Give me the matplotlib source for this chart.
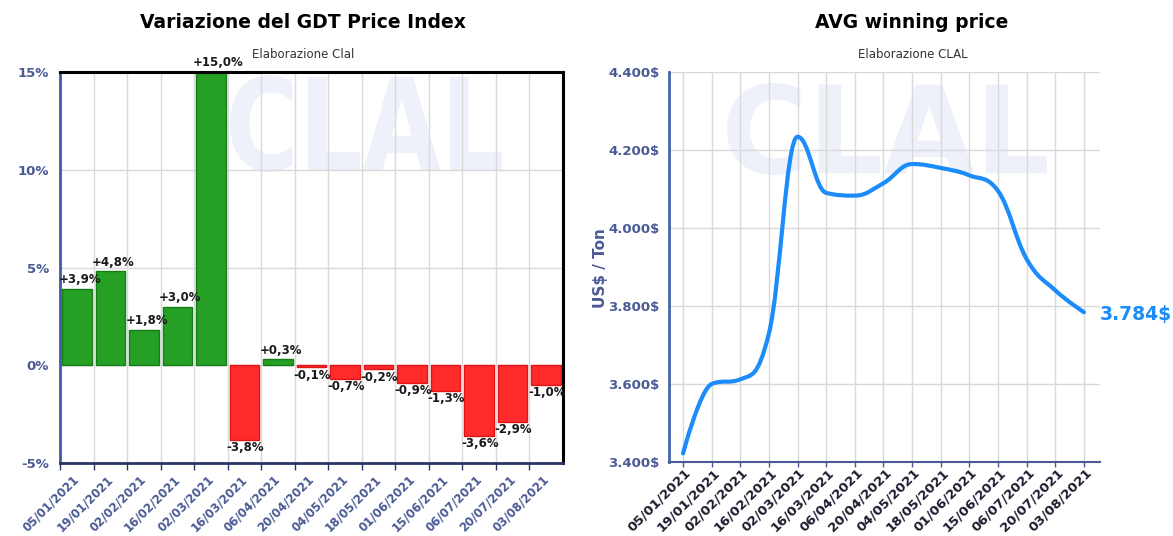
import numpy as np
import matplotlib
matplotlib.use("Agg")
from matplotlib import pyplot as plt
from matplotlib.path import Path
from matplotlib.patches import PathPatch
from matplotlib.textpath import TextPath
from matplotlib.font_manager import FontProperties
from matplotlib.transforms import Affine2D, IdentityTransform, ScaledTranslation


# DATA

DATES = ["05/01/2021", "19/01/2021", "02/02/2021", "16/02/2021", "02/03/2021",
         "16/03/2021", "06/04/2021", "20/04/2021", "04/05/2021", "18/05/2021",
         "01/06/2021", "15/06/2021", "06/07/2021", "20/07/2021", "03/08/2021"]

# % change of the GDT price index per event
GDT_CHANGE = [3.9, 4.8, 1.8, 3.0, 15.0, -3.8, 0.3, -0.1, -0.7, -0.2,
              -0.9, -1.3, -3.6, -2.9, -1.0]

# average winning price, US$ / ton
AVG_PRICE = [3422, 3600, 3612, 3730, 4234, 4090, 4083, 4115, 4164, 4154,
             4135, 4095, 3920, 3840, 3784]

PCT_TICKS = [-5, 0, 5, 10, 15]
PCT_LABELS = ["-5%", "0%", "5%", "10%", "15%"]
PRICE_TICKS = [3400, 3600, 3800, 4000, 4200, 4400]
PRICE_LABELS = ["3.400$", "3.600$", "3.800$", "4.000$", "4.200$", "4.400$"]
LAST_LABEL = "3.784$"


# STYLE

W, H = 1173, 536
AXIS_BLUE = "#4a5a94"
GRID = "#d9d9d9"
LINE_BLUE = "#1b8cf9"
WATERMARK = "#eef1f9"
GREEN, GREEN_EDGE = "#25a025", "#187c18"
RED, RED_EDGE = "#ff2a2a", "#e01616"


def px_box(x0, y_top, x1, y_bot):
    # image pixels (y from top) -> figure fraction rect
    return [x0 / W, 1 - y_bot / H, (x1 - x0) / W, (y_bot - y_top) / H]


# faint "CLAL" logo behind each plot, stretched into a pixel box
def watermark(ax, x0, y_top, x1, y_bot):
    tp = TextPath((0, 0), "CLAL", size=100,
                  prop=FontProperties(family="DejaVu Sans", weight="bold"))
    ext = tp.get_extents()
    tr = (Affine2D().translate(-ext.x0, -ext.y0)
          .scale((x1 - x0) / ext.width, (y_bot - y_top) / ext.height)
          .translate(x0, H - y_bot))
    patch = PathPatch(tr.transform_path(tp), facecolor=WATERMARK,
                      edgecolor="none", transform=IdentityTransform(), zorder=0.5)
    ax.add_artist(patch)


# smooth line like the highcharts "spline" series
def spline_path(xs, ys, smoothing=1.5):
    n = len(xs)
    d = smoothing + 1
    right = [None] * n
    verts = [(xs[0], ys[0])]
    codes = [Path.MOVETO]
    for i in range(1, n):
        x, y = xs[i], ys[i]
        left = (x, y)
        if i < n - 1:
            lx, ly = xs[i - 1], ys[i - 1]
            nx, ny = xs[i + 1], ys[i + 1]
            lcx = (smoothing * x + lx) / d
            lcy = (smoothing * y + ly) / d
            rcx = (smoothing * x + nx) / d
            rcy = (smoothing * y + ny) / d
            corr = (rcy - lcy) * (rcx - x) / (rcx - lcx) + y - rcy
            lcy += corr
            rcy += corr
            if lcy > ly and lcy > y:
                lcy = max(ly, y)
                rcy = 2 * y - lcy
            elif lcy < ly and lcy < y:
                lcy = min(ly, y)
                rcy = 2 * y - lcy
            if rcy > ny and rcy > y:
                rcy = max(ny, y)
                lcy = 2 * y - rcy
            elif rcy < ny and rcy < y:
                rcy = min(ny, y)
                lcy = 2 * y - rcy
            left = (lcx, lcy)
            right[i] = (rcx, rcy)
        prev = right[i - 1] if right[i - 1] is not None else (xs[i - 1], ys[i - 1])
        verts += [prev, left, (x, y)]
        codes += [Path.CURVE4] * 3
    return Path(verts, codes)


def shift_labels(ax, fig, dx_px, dy_px=0):
    off = ScaledTranslation(dx_px / 100, dy_px / 100, fig.dpi_scale_trans)
    for lab in ax.get_xticklabels():
        lab.set_transform(lab.get_transform() + off)


fig = plt.figure(figsize=(W / 100, H / 100), dpi=100)

# LEFT: GDT price index change

ax1 = fig.add_axes(px_box(60, 72, 563, 463))
ax1.set_facecolor("white")
x = np.arange(len(DATES))
colors = [GREEN if v >= 0 else RED for v in GDT_CHANGE]
edges = [GREEN_EDGE if v >= 0 else RED_EDGE for v in GDT_CHANGE]
ax1.bar(x, GDT_CHANGE, width=0.88, color=colors, edgecolor=edges, linewidth=1, zorder=2)

for i, v in enumerate(GDT_CHANGE):
    lab = ("%+.1f%%" % v).replace(".", ",")
    if v >= 0:
        ax1.annotate(lab, (i - 0.5, v), xytext=(-1, 2), textcoords="offset points",
                     ha="left", va="bottom", fontsize=8.5, fontweight="bold",
                     color="#1a1a1a", annotation_clip=False, zorder=4)
    else:
        ax1.annotate(lab, (i - 0.5, v), xytext=(-1, -1), textcoords="offset points",
                     ha="left", va="top", fontsize=8.5, fontweight="bold",
                     color="#1a1a1a", annotation_clip=False, zorder=4)

ax1.set_xlim(-0.5, len(DATES) - 0.5)
ax1.set_ylim(-5, 15)
ax1.set_yticks(PCT_TICKS)
ax1.set_yticklabels(PCT_LABELS)
ax1.set_xticks(x)
ax1.set_xticklabels(DATES, rotation=45, ha="right", va="top", rotation_mode="anchor")
ax1.set_xticks(x - 0.5, minor=True)
ax1.tick_params(axis="y", length=0, pad=8, labelsize=9.5, labelcolor=AXIS_BLUE)
for lab in ax1.get_yticklabels():
    lab.set_fontweight("bold")
ax1.tick_params(axis="x", which="major", length=0, pad=7, labelsize=8.5, labelcolor=AXIS_BLUE)
ax1.tick_params(axis="x", which="minor", length=5, width=1, color="#2b3466")
for lab in ax1.get_xticklabels():
    lab.set_fontweight("bold")
shift_labels(ax1, fig, -4)
ax1.grid(axis="y", which="major", color=GRID, lw=1, zorder=1)
ax1.grid(axis="x", which="minor", color=GRID, lw=1, zorder=1)
ax1.set_axisbelow(True)
ax1.spines["left"].set_color("#3b5ba5")
ax1.spines["left"].set_linewidth(2)
ax1.spines["bottom"].set_color("#2b3466")
ax1.spines["bottom"].set_linewidth(2)
for s in ["top", "right"]:
    ax1.spines[s].set_color("black")
    ax1.spines[s].set_linewidth(2.2)
watermark(ax1, 230, 75, 502, 172)

fig.text(303 / W, 1 - 23 / H, "Variazione del GDT Price Index", ha="center", va="center",
         fontsize=13.5, fontweight="bold", color="black")
fig.text(303 / W, 1 - 54 / H, "Elaborazione Clal", ha="center", va="center",
         fontsize=8.5, color="#333333")

# RIGHT: average winning price

ax2 = fig.add_axes(px_box(669, 72, 1100, 462))
ax2.set_facecolor("white")
xp = np.arange(len(AVG_PRICE))
ax2.add_patch(PathPatch(spline_path(list(xp), AVG_PRICE), fill=False, edgecolor=LINE_BLUE,
                        lw=3, capstyle="round", joinstyle="round", zorder=3))
ax2.annotate(LAST_LABEL, (xp[-1], AVG_PRICE[-1]), xytext=(11.5, -1.5), textcoords="offset points",
             ha="left", va="center", fontsize=13.5, fontweight="bold", color=LINE_BLUE,
             annotation_clip=False)

ax2.set_xlim(-0.49, len(AVG_PRICE) - 0.44)
ax2.set_ylim(PRICE_TICKS[0], PRICE_TICKS[-1])
ax2.set_yticks(PRICE_TICKS)
ax2.set_yticklabels(PRICE_LABELS)
ax2.set_xticks(xp)
ax2.set_xticklabels(DATES, rotation=45, ha="right", va="top", rotation_mode="anchor")
ax2.tick_params(axis="y", length=0, pad=7, labelsize=9.5, labelcolor=AXIS_BLUE)
for lab in ax2.get_yticklabels():
    lab.set_fontweight("bold")
ax2.tick_params(axis="x", length=3.6, width=1, color=AXIS_BLUE, pad=-0.5,
                labelsize=9.5, labelcolor="#1c1c30")
for lab in ax2.get_xticklabels():
    lab.set_fontweight("bold")
shift_labels(ax2, fig, 1)
ax2.grid(color=GRID, lw=1, zorder=1)
ax2.set_axisbelow(True)
ax2.spines["top"].set_visible(False)
ax2.spines["right"].set_visible(False)
ax2.spines["left"].set_color("#4466aa")
ax2.spines["left"].set_linewidth(2)
ax2.spines["bottom"].set_color(AXIS_BLUE)
ax2.spines["bottom"].set_linewidth(1.5)
watermark(ax2, 727, 83, 1047, 175)

fig.text(600 / W, 1 - 268 / H, "US$ / Ton", rotation=90, ha="center", va="center",
         fontsize=11, fontweight="bold", color=AXIS_BLUE)
fig.text(912 / W, 1 - 23 / H, "AVG winning price", ha="center", va="center",
         fontsize=13.5, fontweight="bold", color="black")
fig.text(913 / W, 1 - 54 / H, "Elaborazione CLAL", ha="center", va="center",
         fontsize=8.5, color="#333333")

fig.savefig("out.png", dpi=100)
